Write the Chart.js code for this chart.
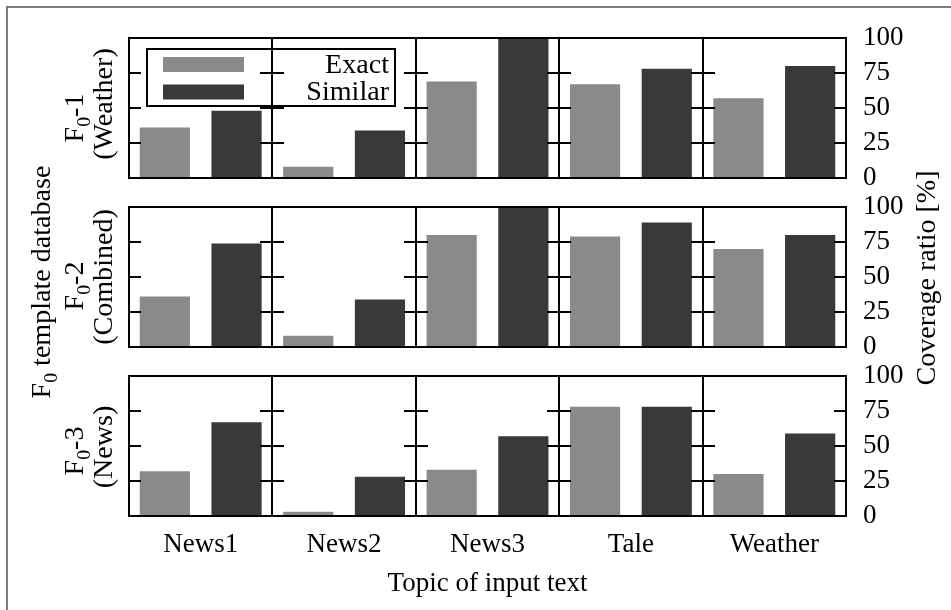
<!DOCTYPE html>
<html>
<head>
<meta charset="utf-8">
<script src="https://cdn.jsdelivr.net/npm/chart.js@4/dist/chart.umd.min.js"></script>
<style>
  html, body { margin: 0; padding: 0; background: #fff; }
  #wrap { position: relative; width: 951px; height: 610px; overflow: hidden; }
  #wrap canvas { position: absolute; left: 0; top: 0; }
</style>
</head>
<body>
<div id="wrap">
  <canvas id="row1" width="951" height="610"></canvas>
  <canvas id="row2" width="951" height="610"></canvas>
  <canvas id="row3" width="951" height="610"></canvas>
</div>
<script>
// Topics of the input text (one panel per topic)
const topics = ['News1', 'News2', 'News3', 'Tale', 'Weather'];
const seriesNames = ['Exact', 'Similar'];
const yTicks = [0, 25, 50, 75, 100];
const innerTicks = [25, 50, 75];

// Row labels: F0 template database used
const dbNumbers = ['1', '2', '3'];
const dbNames = ['(Weather)', '(Combined)', '(News)'];

// Coverage ratio [%] per topic, for each template database
const weatherExact    = [36, 8, 69, 67, 57];
const weatherSimilar  = [48, 34, 100, 78, 80];
const combinedExact   = [36, 8, 80, 79, 70];
const combinedSimilar = [74, 34, 100, 89, 80];
const newsExact       = [32, 3, 33, 78, 30];
const newsSimilar     = [67, 28, 57, 78, 59];

// ---- layout / style ----
const W = 951, H = 610;
const AREA_LEFT = 129, AREA_RIGHT = 846;
const ROW_TOP = [38, 207, 376];
const ROW_BOTTOM = [178, 347, 516];
const EXACT_COLOR = '#8a8a8a';
const SIMILAR_COLOR = '#393939';
const FONT_FAMILY = "'Liberation Serif', 'Times New Roman', serif";
const FONT_SIZE = 27;
const STRETCH = 1.04;   // slightly wider serif look for the free-standing labels
const font = { family: FONT_FAMILY, size: FONT_SIZE };

// draw a run of text pieces (some subscripted) along the current x-axis
function drawRich(ctx, parts, x, y) {
  const subSize = Math.round(FONT_SIZE * 0.7);
  let total = 0;
  const widths = parts.map(p => {
    ctx.font = (p.sub ? subSize : FONT_SIZE) + 'px ' + FONT_FAMILY;
    const w = ctx.measureText(p.t).width;
    total += w;
    return w;
  });
  let cx = x - total / 2;
  parts.forEach((p, i) => {
    ctx.font = (p.sub ? subSize : FONT_SIZE) + 'px ' + FONT_FAMILY;
    ctx.fillText(p.t, cx, p.sub ? y + 7 : y);
    cx += widths[i];
  });
}

// rotated (bottom-to-top) text centred on (sx, sy); sx is the baseline position
function drawVertical(ctx, parts, sx, sy) {
  ctx.save();
  ctx.translate(sx, sy);
  ctx.rotate(-Math.PI / 2);
  ctx.scale(STRETCH, 1);
  ctx.fillStyle = '#000';
  ctx.textAlign = 'left';
  ctx.textBaseline = 'alphabetic';
  drawRich(ctx, parts, 0, 0);
  ctx.restore();
}

// panel frames, dividers between topics and inward ticks on each side
const panelFrame = {
  id: 'panelFrame',
  afterDatasetsDraw(chart) {
    const { ctx, chartArea } = chart;
    const { left, right, top, bottom } = chartArea;
    const xs = chart.scales.x, ys = chart.scales.y;
    const n = topics.length;
    const edges = [];
    for (let i = 0; i <= n; i++) {
      if (i === 0) edges.push(left);
      else if (i === n) edges.push(right);
      else edges.push((xs.getPixelForValue(i - 1) + xs.getPixelForValue(i)) / 2);
    }
    ctx.save();
    ctx.strokeStyle = '#000';
    ctx.lineWidth = 2;
    ctx.beginPath();
    ctx.rect(left, top, right - left, bottom - top);
    edges.slice(1, -1).forEach(e => {
      const ex = Math.round(e);
      ctx.moveTo(ex, top);
      ctx.lineTo(ex, bottom);
    });
    const tl = 12;
    edges.forEach((e, i) => {
      const ex = Math.round(e);
      innerTicks.forEach(v => {
        const y = Math.round(ys.getPixelForValue(v));
        ctx.moveTo(i === 0 ? ex : ex - tl, y);
        ctx.lineTo(i === n ? ex : ex + tl, y);
      });
    });
    ctx.stroke();
    ctx.restore();
  }
};

// row label on the left: F0-k and the database name
const rowLabel = {
  id: 'rowLabel',
  afterDraw(chart, args, opts) {
    const { ctx, chartArea } = chart;
    const cy = (chartArea.top + chartArea.bottom) / 2;
    drawVertical(ctx, [{ t: 'F' }, { t: '0', sub: true }, { t: '-' + dbNumbers[opts.row] }], 83, cy + opts.shift);
    drawVertical(ctx, [{ t: dbNames[opts.row] }], 112, cy + opts.nameShift);
  }
};

// key box drawn inside the first row
const keyBox = {
  id: 'keyBox',
  afterDraw(chart) {
    const { ctx, chartArea } = chart;
    const x0 = chartArea.left + 18, y0 = chartArea.top + 11;
    const w = 248, h = 57;
    ctx.save();
    ctx.strokeStyle = '#000';
    ctx.lineWidth = 2;
    ctx.strokeRect(x0, y0, w, h);
    const ds = chart.data.datasets;
    const rowsY = [y0 + 15.5, y0 + 43];
    ds.forEach((d, i) => {
      ctx.fillStyle = d.backgroundColor;
      ctx.fillRect(x0 + 16, rowsY[i] - 7.5, 81, 15);
      ctx.save();
      ctx.translate(x0 + w - 6, rowsY[i]);
      ctx.scale(STRETCH, 1);
      ctx.fillStyle = '#000';
      ctx.font = FONT_SIZE + 'px ' + FONT_FAMILY;
      ctx.textAlign = 'right';
      ctx.textBaseline = 'middle';
      ctx.fillText(d.label, 0, 1);
      ctx.restore();
    });
    ctx.restore();
  }
};

// overall titles and the outer frame
const pageTitles = {
  id: 'pageTitles',
  afterDraw(chart) {
    const { ctx } = chart;
    ctx.save();
    ctx.strokeStyle = '#7a7a7a';
    ctx.lineWidth = 2;
    ctx.beginPath();
    ctx.moveTo(7, H);
    ctx.lineTo(7, 7);
    ctx.lineTo(W, 7);
    ctx.stroke();
    ctx.restore();
    drawVertical(ctx, [{ t: 'F' }, { t: '0', sub: true }, { t: ' template database' }], 50, 282);
    drawVertical(ctx, [{ t: 'Coverage ratio [%]' }], 935, 278);
  }
};

function makeRow(canvasId, row, exact, similar, extraPlugins) {
  const isBottom = row === 2;
  const xScale = {
    display: isBottom,
    grid: { display: false, drawTicks: false },
    border: { display: false },
    ticks: { font: font, color: '#000', padding: 13, maxRotation: 0, autoSkip: false },
    title: { display: isBottom, text: 'Topic of input text', font: font, color: '#000', padding: { top: 0, bottom: 10 } }
  };
  if (isBottom) xScale.afterFit = s => { s.height = H - ROW_BOTTOM[row]; };
  return new Chart(document.getElementById(canvasId), {
    type: 'bar',
    data: {
      labels: topics,
      datasets: [
        { label: seriesNames[0], data: exact, backgroundColor: EXACT_COLOR, borderWidth: 0 },
        { label: seriesNames[1], data: similar, backgroundColor: SIMILAR_COLOR, borderWidth: 0 }
      ]
    },
    options: {
      responsive: false,
      animation: false,
      devicePixelRatio: 1,
      events: [],
      layout: {
        padding: { left: AREA_LEFT, top: ROW_TOP[row], right: 0, bottom: isBottom ? 0 : H - ROW_BOTTOM[row] }
      },
      datasets: { bar: { categoryPercentage: 1.0, barPercentage: 0.7 } },
      plugins: {
        legend: { display: false },
        tooltip: { enabled: false },
        rowLabel: { row: row, shift: [10, 9, 5][row], nameShift: [-4, 0, 1][row] }
      },
      scales: {
        x: xScale,
        y: {
          position: 'right',
          min: 0,
          max: 100,
          grid: { display: false, drawTicks: false },
          border: { display: false },
          ticks: { font: font, color: '#000', padding: 17, autoSkip: false },
          afterBuildTicks(s) { s.ticks = yTicks.map(v => ({ value: v })); },
          afterFit(s) { s.width = W - AREA_RIGHT; }
        }
      }
    },
    plugins: [panelFrame, rowLabel].concat(extraPlugins)
  });
}

makeRow('row1', 0, weatherExact, weatherSimilar, [keyBox]);
makeRow('row2', 1, combinedExact, combinedSimilar, [pageTitles]);
makeRow('row3', 2, newsExact, newsSimilar, []);
</script>
</body>
</html>
